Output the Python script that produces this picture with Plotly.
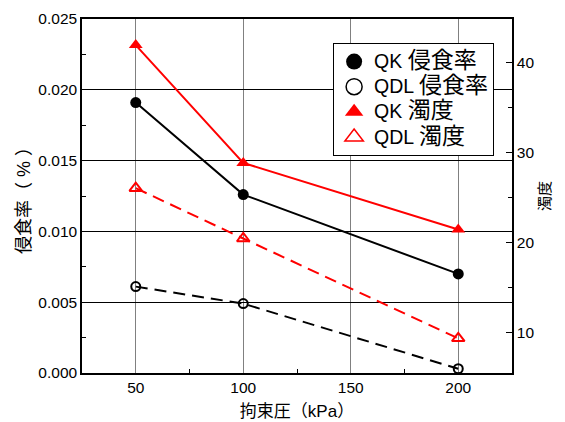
import plotly.graph_objects as go

pressure = [50, 100, 200]
qk_erosion = [0.0191, 0.0126, 0.0070]
qdl_erosion = [0.0061, 0.0049, 0.0003]
qk_turbidity = [41.9, 28.8, 21.4]
qdl_turbidity = [26.0, 20.4, 9.3]
series_codes = ["QK", "QDL", "QK", "QDL"]
series_kinds = ["侵食率", "侵食率", "濁度", "濁度"]
series_names = [f"{c} {k}" for c, k in zip(series_codes, series_kinds)]

FONT = "Liberation Sans, Arial, Noto Sans CJK JP"
RED = "#ff0000"

fig = go.Figure()
fig.add_trace(go.Scatter(x=pressure, y=qk_erosion, name=series_names[0], mode="lines+markers",
                         showlegend=False,
                         line=dict(color="black", width=2),
                         marker=dict(symbol="circle", size=11, color="black")))
fig.add_trace(go.Scatter(x=pressure, y=qdl_erosion, name=series_names[1], mode="lines+markers",
                         showlegend=False,
                         line=dict(color="black", width=2, dash="12px,7px"),
                         marker=dict(symbol="circle-open", size=9, color="black", line=dict(width=2))))
fig.add_trace(go.Scatter(x=pressure, y=qk_turbidity, name=series_names[2], mode="lines+markers", yaxis="y2",
                         showlegend=False,
                         line=dict(color=RED, width=2),
                         marker=dict(symbol="triangle-up", size=12, color=RED)))
fig.add_trace(go.Scatter(x=pressure, y=qdl_turbidity, name=series_names[3], mode="lines+markers", yaxis="y2",
                         showlegend=False,
                         line=dict(color=RED, width=2, dash="12px,7px"),
                         marker=dict(symbol="triangle-up-open", size=11, color=RED, line=dict(width=2))))

# legend entries (markers only)
legend_markers = [
    dict(symbol="circle", size=16, color="black"),
    dict(symbol="circle-open", size=16, color="black", line=dict(width=1.5)),
    dict(symbol="triangle-up", size=16, color=RED),
    dict(symbol="triangle-up-open", size=16, color=RED, line=dict(width=1.5)),
]
for c, k, mk in zip(series_codes, series_kinds, legend_markers):
    label = f"<span style='font-size:19.5px'>{c} </span><span style='font-size:23px'>{k}</span>"
    fig.add_trace(go.Scatter(x=[None], y=[None], name=label, mode="markers", marker=mk, showlegend=True))

fig.update_layout(
    width=565, height=422,
    margin=dict(l=82, r=53, t=19, b=49),
    plot_bgcolor="white", paper_bgcolor="white",
    font=dict(family=FONT, size=15.5, color="black"),
    showlegend=True,
    legend=dict(x=0.584, y=0.932, xanchor="left", yanchor="top",
                bordercolor="black", borderwidth=1, bgcolor="white",
                font=dict(size=17), tracegroupgap=0, itemwidth=30),
    xaxis=dict(range=[25, 225], tickvals=[50, 100, 150, 200], automargin=False,
               showgrid=True, gridcolor="#808080", gridwidth=1,
               showline=True, linecolor="black", linewidth=1.5, mirror=True,
               ticks="", zeroline=False,
               minor=dict(tickvals=[75, 125, 175], ticks="inside", ticklen=4, tickcolor="black"),
               title=dict(text="拘束圧（kPa）", standoff=10, font=dict(size=17))),
    yaxis=dict(range=[0, 0.025], tickvals=[0, 0.005, 0.01, 0.015, 0.02, 0.025], automargin=False,
               tickformat=".3f",
               showgrid=True, gridcolor="black", gridwidth=1,
               showline=True, linecolor="black", linewidth=1.5,
               ticks="", zeroline=False,
               minor=dict(tickvals=[0.0025, 0.0075, 0.0125, 0.0175, 0.0225], ticks="inside",
                          ticklen=4, tickcolor="black"),
               title=dict(text="\u00a0\u00a0\u00a0侵食率（ % ）", standoff=3, font=dict(size=18))),
    yaxis2=dict(range=[5.45, 44.8], overlaying="y", side="right", automargin=False,
                tickvals=[10, 20, 30, 40], showgrid=False, zeroline=False,
                showline=True, linecolor="black", linewidth=1.5,
                ticks="inside", ticklen=6, tickcolor="black",
                minor=dict(tickvals=[15, 25, 35], ticks="inside", ticklen=4, tickcolor="black"),
                title=dict(text="濁度", standoff=6, font=dict(size=15))),
)

css_js = "document.body.style.margin='0';document.body.style.overflow='hidden';"
fig.write_html("out.html", config={"displayModeBar": False}, post_script=css_js)
